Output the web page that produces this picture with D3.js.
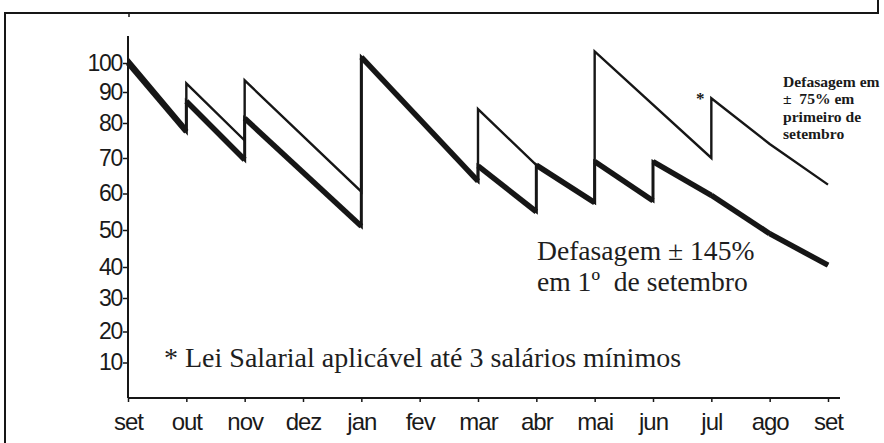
<!DOCTYPE html>
<html>
<head>
<meta charset="utf-8">
<script src="https://cdn.jsdelivr.net/npm/d3@7"></script>
<style>
  html, body { margin: 0; padding: 0; background: #fff; }
  svg { display: block; }
</style>
</head>
<body>
<script>
// ---------------- data ----------------
const months = ["set","out","nov","dez","jan","fev","mar","abr","mai","jun","jul","ago","set"];
const yTicks = [10,20,30,40,50,60,70,80,90,100];

// Series "Defasagem ± 75%" (thin line): month index and index value (jumps = repeated month)
const thinMonth = [0, 1, 1, 2, 2, 4, 4, 6, 6, 7, 8, 8, 10, 10, 11, 12];
const thinValue = [101.5, 78.5, 93, 75, 94, 60.5, 102, 63.5, 84.5, 68, 57.5, 104, 70, 88, 74, 62.5];

// Series "Defasagem ± 145%" (thick line)
const thickMonth = [0, 1, 1, 2, 2, 4, 4, 6, 6, 7, 7, 8, 8, 9, 9, 10, 11, 12];
const thickValue = [100, 77.5, 87, 69.5, 81.5, 51, 102, 63.5, 67.8, 55, 68, 57.5, 69, 58, 69, 59.5, 49, 40.5];

const annotThick = ["Defasagem \u00b1 145%", "em 1\u00ba\u00a0 de setembro"];
const annotThin = ["Defasagem em", "\u00b1\u00a0 75% em", "primeiro de", "setembro"];
const footnote = "* Lei Salarial aplic\u00e1vel at\u00e9 3 sal\u00e1rios m\u00ednimos";

// ---------------- layout ----------------
const W = 884, H = 443;
const ink = "#161616";
const svg = d3.select("body").append("svg").attr("width", W).attr("height", H);

const x = d3.scaleLinear().domain([0, 12]).range([128, 828]);
// hand-drawn axis: tick spacing is uneven in the original, so calibrate piecewise
const y = d3.scaleLinear()
  .domain([0, 10, 20, 30, 40, 50, 60, 70, 80, 90, 100])
  .range([398, 362.5, 331.5, 298, 267, 230, 193.5, 158, 123, 92, 63]);

// page frame (scanned crop)
svg.append("line").attr("x1", 5).attr("x2", 879).attr("y1", 13).attr("y2", 13)
  .attr("stroke", ink).attr("stroke-width", 2);
svg.append("line").attr("x1", 5).attr("x2", 5).attr("y1", 12).attr("y2", H)
  .attr("stroke", ink).attr("stroke-width", 2);
svg.append("line").attr("x1", 878).attr("x2", 878).attr("y1", 0).attr("y2", 14)
  .attr("stroke", ink).attr("stroke-width", 2);
svg.append("line").attr("x1", 129).attr("x2", 129).attr("y1", 13).attr("y2", 17)
  .attr("stroke", ink).attr("stroke-width", 1.5);

// axes
const xAxis = d3.axisBottom(x).tickValues(d3.range(months.length))
  .tickFormat(i => months[i]).tickSize(4).tickPadding(11);
const gx = svg.append("g").attr("transform", `translate(0,${y(0)})`).call(xAxis);
gx.select(".domain").remove();
gx.selectAll(".tick line").attr("stroke", ink).attr("stroke-width", 1.5);
gx.selectAll(".tick text")
  .attr("font-family", "'Liberation Sans', Arial, sans-serif")
  .attr("font-size", 24).attr("letter-spacing", -1).attr("fill", "#1a1a1a");

const yAxis = d3.axisLeft(y).tickValues(yTicks).tickSize(5).tickPadding(1);
const gy = svg.append("g").attr("transform", `translate(${x(0)},0)`).call(yAxis);
gy.select(".domain").remove();
gy.selectAll(".tick line").attr("stroke", ink).attr("stroke-width", 1.5);
gy.selectAll(".tick text")
  .attr("font-family", "'Liberation Sans', Arial, sans-serif")
  .attr("font-size", 23).attr("letter-spacing", -1.3).attr("fill", "#1a1a1a");

// axis lines
svg.append("line").attr("x1", x(0)).attr("x2", 840).attr("y1", y(0)).attr("y2", y(0))
  .attr("stroke", ink).attr("stroke-width", 2);
svg.append("line").attr("x1", x(0)).attr("x2", x(0)).attr("y1", y(0)).attr("y2", 36)
  .attr("stroke", ink).attr("stroke-width", 2);

// series drawing
function drawSeries(months_, values, baseW, slantW) {
  const pts = months_.map((m, i) => [x(m), y(values[i])]);
  const line = d3.line();
  svg.append("path").attr("d", line(pts)).attr("fill", "none")
    .attr("stroke", ink).attr("stroke-width", baseW)
    .attr("stroke-linejoin", "miter").attr("stroke-miterlimit", 6);
  if (slantW > baseW) {
    for (let i = 1; i < pts.length; i++) {
      if (months_[i] !== months_[i - 1]) {
        svg.append("path").attr("d", line([pts[i - 1], pts[i]])).attr("fill", "none")
          .attr("stroke", ink).attr("stroke-width", slantW).attr("stroke-linecap", "butt");
      }
    }
  }
}
drawSeries(thickMonth, thickValue, 3, 5.5);
drawSeries(thinMonth, thinValue, 2.4, 2.4);

// annotations
const serif = "'Liberation Serif', 'Times New Roman', serif";
svg.append("text").attr("font-family", serif)
  .attr("font-size", 27.6).attr("fill", "#1e1e1e")
  .selectAll("tspan").data(annotThick).join("tspan")
  .attr("x", 537).attr("y", (d, i) => 260 + i * 31).text(d => d);

svg.append("text").attr("font-family", serif)
  .attr("font-size", 15.6).attr("font-weight", "bold").attr("fill", "#1a1a1a")
  .selectAll("tspan").data(annotThin).join("tspan")
  .attr("x", 783).attr("y", (d, i) => 87 + i * 17.4).text(d => d);

svg.append("text").attr("x", x(10) - 11).attr("y", 104)
  .attr("text-anchor", "middle").attr("font-family", serif)
  .attr("font-size", 17).attr("font-weight", "bold").attr("fill", "#1a1a1a").text("*");

svg.append("text").attr("x", 164).attr("y", 367).attr("font-family", serif)
  .attr("font-size", 28).attr("fill", "#1e1e1e").text(footnote);
</script>
</body>
</html>
